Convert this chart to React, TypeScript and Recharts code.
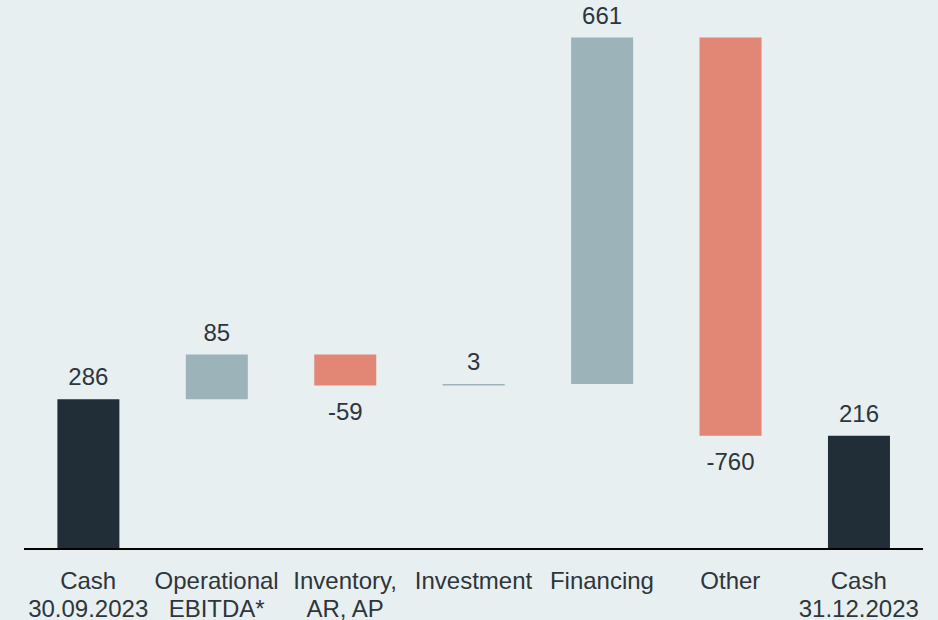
import React from 'react';
import { BarChart, Bar, XAxis, YAxis, Cell, LabelList } from 'recharts';

// Cash bridge Q4 2023
const categories = [
  ['Cash', '30.09.2023'],
  ['Operational', 'EBITDA*'],
  ['Inventory,', 'AR, AP'],
  ['Investment'],
  ['Financing'],
  ['Other'],
  ['Cash', '31.12.2023'],
];
const deltas = [286, 85, -59, 3, 661, -760, 216];
const isTotal = [true, false, false, false, false, false, true];

const COLORS = {
  total: '#212e37',
  up: '#9bb3b9',
  down: '#e28675',
  text: '#2e353b',
  bg: '#e7eff1',
};

// build running totals for the waterfall
let running = 0;
const data = deltas.map((v, i) => {
  let range: [number, number];
  if (isTotal[i]) {
    range = [0, v];
    running = v;
  } else {
    const start = running;
    running += v;
    range = [Math.min(start, running), Math.max(start, running)];
  }
  return { name: String(i), range, value: v };
});

const fontFamily = '"Liberation Sans", Arial, sans-serif';

const Tick = (props: any) => {
  const { x, y, payload } = props;
  const lines = categories[Number(payload.value)] || [];
  return (
    <text x={x} y={y} textAnchor="middle" fill={COLORS.text} fontSize={24} fontFamily={fontFamily}>
      {lines.map((l, i) => (
        <tspan key={i} x={x} dy={i === 0 ? 38 : 28}>
          {l}
        </tspan>
      ))}
    </text>
  );
};

const ValueLabel = (props: any) => {
  const { x, y, width, height, index } = props;
  const v = deltas[index];
  const top = Math.min(y, y + height);
  const bottom = Math.max(y, y + height);
  const ty = v >= 0 ? top - 14 : bottom + 34;
  return (
    <text x={x + width / 2} y={ty} textAnchor="middle" fill={COLORS.text} fontSize={24} fontFamily={fontFamily}>
      {v}
    </text>
  );
};

const App: React.FC = () => {
  return (
    <div style={{ position: 'absolute', left: 0, top: 0, width: 938, height: 620, background: COLORS.bg }}>
      <BarChart
        width={938}
        height={620}
        data={data}
        margin={{ top: 25, right: 15, bottom: 11, left: 24 }}
        barCategoryGap="26%"
      >
        <XAxis
          dataKey="name"
          axisLine={{ stroke: '#000', strokeWidth: 2 }}
          tickLine={false}
          tickSize={0}
          tick={<Tick />}
          height={60}
          interval={0}
        />
        <YAxis hide domain={[0, 1000]} />
        <Bar dataKey="range" isAnimationActive={false}>
          {data.map((d, i) => (
            <Cell key={`cell-${i}`} fill={isTotal[i] ? COLORS.total : d.value >= 0 ? COLORS.up : COLORS.down} />
          ))}
          <LabelList dataKey="value" content={<ValueLabel />} />
        </Bar>
      </BarChart>
    </div>
  );
};

export default App;
